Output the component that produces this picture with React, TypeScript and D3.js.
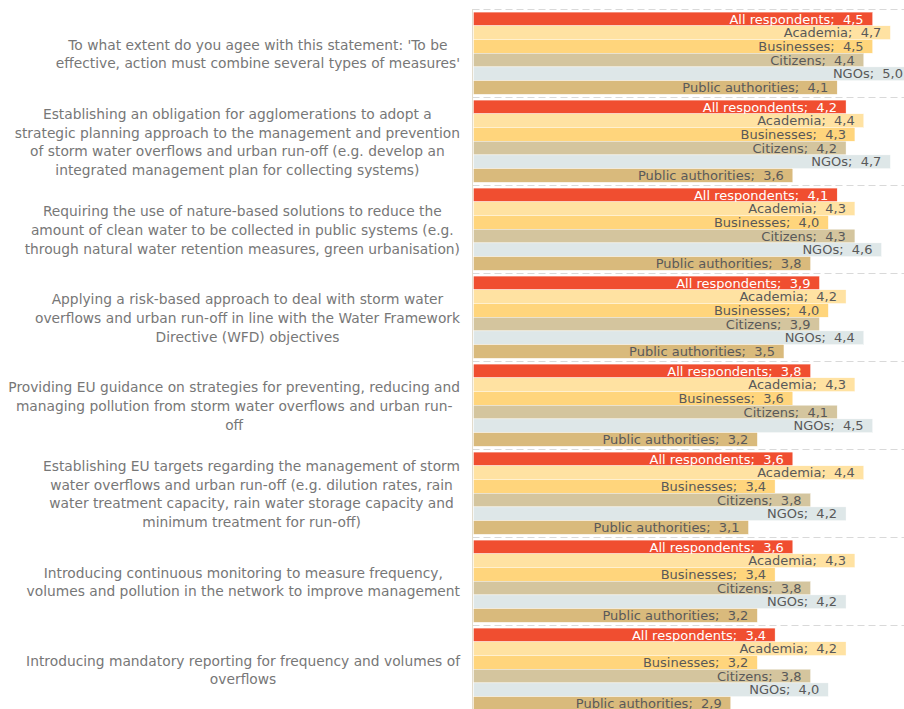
import React, { useEffect, useRef } from 'react';
import * as d3 from 'd3';

const categories: string[][] = [
  ["To what extent do you agee with this statement: 'To be", "effective, action must combine several types of measures'"],
  ["Establishing an obligation for agglomerations to adopt a", "strategic planning approach to the management and prevention", "of storm water overflows and urban run-off (e.g. develop an", "integrated management plan for collecting systems)"],
  ["Requiring the use of nature-based solutions to reduce the", "amount of clean water to be collected in public systems (e.g.", "through natural water retention measures, green urbanisation)"],
  ["Applying a risk-based approach to deal with storm water", "overflows and urban run-off in line with the Water Framework", "Directive (WFD) objectives"],
  ["Providing EU guidance on strategies for preventing, reducing and", "managing pollution from storm water overflows and urban run-", "off"],
  ["Establishing EU targets regarding the management of storm", "water overflows and urban run-off (e.g. dilution rates, rain", "water treatment capacity, rain water storage capacity and", "minimum treatment for run-off)"],
  ["Introducing continuous monitoring to measure frequency,", "volumes and pollution in the network to improve management"],
  ["Introducing mandatory reporting for frequency and volumes of", "overflows"],
];

const seriesNames = ["All respondents", "Academia", "Businesses", "Citizens", "NGOs", "Public authorities"];
const allRespondents = [4.5, 4.2, 4.1, 3.9, 3.8, 3.6, 3.6, 3.4];
const academia = [4.7, 4.4, 4.3, 4.2, 4.3, 4.4, 4.3, 4.2];
const businesses = [4.5, 4.3, 4.0, 4.0, 3.6, 3.4, 3.4, 3.2];
const citizens = [4.4, 4.2, 4.3, 3.9, 4.1, 3.8, 3.8, 3.8];
const ngos = [5.0, 4.7, 4.6, 4.4, 4.5, 4.2, 4.2, 4.0];
const publicAuthorities = [4.1, 3.6, 3.8, 3.5, 3.2, 3.1, 3.2, 2.9];
const seriesColors = ["#F04E30", "#FFE2A2", "#FFD57C", "#D4C59E", "#DEE7E8", "#D9BA7C"];
const labelColors = ["#FFFFFF", "#595959", "#595959", "#595959", "#595959", "#595959"];

export default function App() {
  const ref = useRef<SVGSVGElement>(null);
  useEffect(() => {
    const svg = d3.select(ref.current);
    svg.selectAll('*').remove();
    const series = [allRespondents, academia, businesses, citizens, ngos, publicAuthorities];
    const x0 = 473.5;
    const x = d3.scaleLinear().domain([0, 5]).range([x0, x0 + 443.5]);
    const groupIds = categories.map((_, i) => String(i));
    const y = d3.scaleBand().domain(groupIds).range([9.5, 9.5 + 8 * 88]);
    const yi = d3.scaleBand().domain(seriesNames).range([2.6, 84.8]);

    // dashed separators
    const bounds = d3.range(categories.length + 1).map(i => 9.5 + i * y.step());
    svg.append('g').selectAll('line').data(bounds).join('line')
      .attr('x1', x0 - 1).attr('x2', 904)
      .attr('y1', d => d).attr('y2', d => d)
      .attr('stroke', '#D9D9D9').attr('stroke-width', 1.2)
      .attr('stroke-dasharray', '7,4');

    // axis line
    svg.append('line').attr('x1', x0 - 1).attr('x2', x0 - 1).attr('y1', 9).attr('y2', 709)
      .attr('stroke', '#E3DCCC').attr('stroke-width', 1);

    const g = svg.append('g');
    categories.forEach((_, ci) => {
      const gy = y(String(ci))!;
      seriesNames.forEach((name, si) => {
        const v = series[si][ci];
        const by = gy + yi(name)!;
        const bh = yi.bandwidth();
        g.append('rect')
          .attr('x', x(0)).attr('y', by)
          .attr('width', x(v) - x(0)).attr('height', bh)
          .attr('fill', seriesColors[si])
          .attr('stroke', '#FFFFFF').attr('stroke-width', 0.4);
        g.append('text')
          .attr('x', Math.min(x(v) - 9, 903)).attr('y', by + bh / 2)
          .attr('dy', '0.36em')
          .attr('text-anchor', 'end')
          .attr('fill', labelColors[si])
          .style('font-family', '"DejaVu Sans", sans-serif')
          .style('font-size', '13px')
          .style('white-space', 'pre')
          .text(`${name};  ${v.toFixed(1).replace('.', ',')}`);
      });

      // category label
      const lines = categories[ci];
      const lh = 18.7;
      const cy = gy + y.bandwidth() / 2 + 0.5;
      const tg = svg.append('g');
      const texts = tg.selectAll('text').data(lines).join('text')
        .attr('y', (_, li) => cy + (li - (lines.length - 1) / 2) * lh)
        .attr('dy', '0.36em')
        .attr('text-anchor', 'middle')
        .attr('fill', '#777777')
        .style('font-family', '"DejaVu Sans", sans-serif')
        .style('font-size', '13.8px')
        .text(d => d);
      let maxW = 0;
      texts.each(function () {
        const w = (this as SVGTextElement).getComputedTextLength();
        if (w > maxW) maxW = w;
      });
      texts.attr('x', 460 - maxW / 2);
    });
  }, []);
  return (
    <svg ref={ref} width={904} height={709}
      style={{ position: 'absolute', left: 0, top: 0, background: '#FFFFFF' }} />
  );
}
